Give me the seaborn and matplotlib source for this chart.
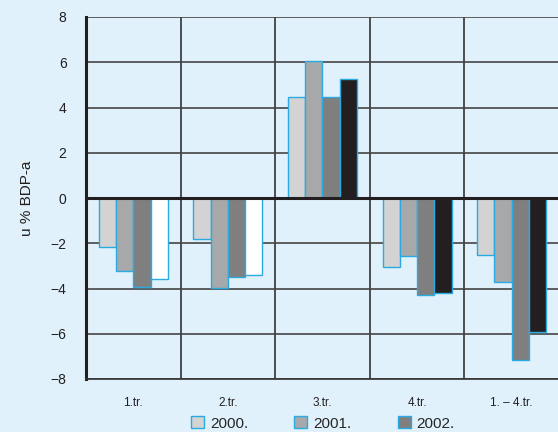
import numpy as np
import pandas as pd
import matplotlib
matplotlib.use('Agg')
import matplotlib.pyplot as plt
from matplotlib.patches import Patch
import seaborn as sns

quarters = ['1.tr.', '2.tr.', '3.tr.', '4.tr.', '1. – 4.tr.']
y2000 = [-2.15, -1.81, 4.47, -3.04, -2.50]
y2001 = [-3.23, -3.99, 6.04, -2.58, -3.73]
y2002 = [-3.92, -3.48, 4.47, -4.27, -7.18]
y_fourth = [-3.58, -3.39, 5.26, -4.21, -5.91]
series = ['2000.', '2001.', '2002.', 'četvrti']
legend_labels = ['2000.', '2001.', '2002.']

bg = '#e0f1fb'
edge = '#29aae1'
colors = ['#d3d3d3', '#a7a8aa', '#7f7f7f', '#231f20']
fourth_colors = ['white', 'white', '#231f20', '#231f20', '#231f20']

rows = []
for s, vals in zip(series, [y2000, y2001, y2002, y_fourth]):
    for q, v in zip(quarters, vals):
        rows.append({'kv': q, 'god': s, 'val': v})
df = pd.DataFrame(rows)

sns.set_style('white')
plt.rcParams['font.family'] = ['Liberation Sans', 'DejaVu Sans']

fig = plt.figure(figsize=(5.58, 4.32), dpi=100)
fig.patch.set_facecolor(bg)
ax = fig.add_axes([86/558, 53/432, 473/558, 362/432])
ax.set_facecolor(bg)

sns.barplot(data=df, x='kv', y='val', hue='god', order=quarters, hue_order=series,
            palette=colors, width=0.73, edgecolor=edge, linewidth=1.0,
            saturation=1, legend=False, ax=ax)

# 4th series: white for the first two groups, black after
fourth = ax.containers[3]
for p, c in zip(fourth, fourth_colors):
    p.set_facecolor(c)

ax.set_xlim(-0.5, 4.5)
ax.set_ylim(-8, 8)
ax.set_yticks(np.arange(-8, 9, 2))
ax.set_xticks(range(5))
ax.set_xticklabels(quarters)
ax.set_xticks(np.arange(-0.5, 5, 1), minor=True)
ax.set_xlabel('')
ax.set_ylabel('u % BDP-a', fontsize=11, color='#231f20', labelpad=12)

ax.grid(True, axis='y', color='#444444', linewidth=1.2, zorder=0)
ax.grid(True, axis='x', which='minor', color='#333333', linewidth=1.2, zorder=0)
ax.set_axisbelow(True)
ax.axhline(0, color='#231f20', linewidth=2.2, zorder=3)

for side in ['top', 'right']:
    ax.spines[side].set_visible(False)
ax.spines['left'].set_color('#231f20')
ax.spines['left'].set_linewidth(2.2)
ax.spines['bottom'].set_color('#333333')
ax.spines['bottom'].set_linewidth(1.2)

ax.tick_params(axis='y', length=8, width=1.2, color='#666666', labelsize=10,
               labelcolor='#231f20', pad=6)
ax.tick_params(axis='x', which='major', length=0, labelsize=8.5,
               labelcolor='#231f20', pad=13)
ax.tick_params(axis='x', which='minor', length=7, width=1.0, color='#333333')

handles = [Patch(facecolor=c, edgecolor=edge, linewidth=1.0) for c in colors[:3]]
fig.legend(handles, legend_labels, loc='center', bbox_to_anchor=(0.579, 0.02),
           ncol=3, frameon=False, fontsize=11, handlelength=0.85, handleheight=0.85,
           handletextpad=0.4, columnspacing=3.0, borderpad=0)

fig.savefig('out.png', dpi=100, facecolor=bg)
